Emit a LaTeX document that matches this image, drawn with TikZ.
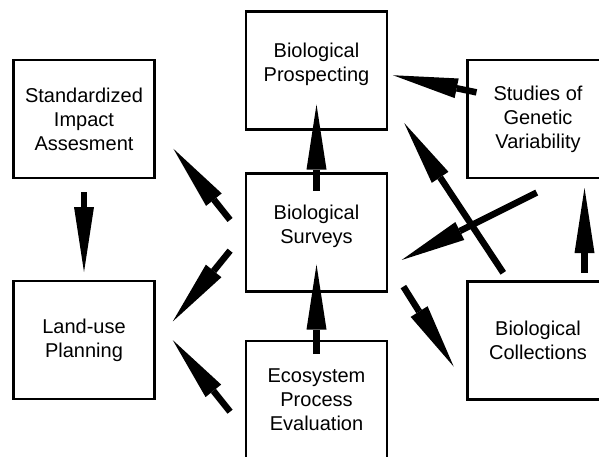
\documentclass[tikz,border=0pt]{standalone}
\usepackage{fontspec}
\setmainfont{Liberation Sans}
\usetikzlibrary{arrows.meta}
\begin{document}
\begin{tikzpicture}[x=1pt, y=-1pt,
    box/.style={draw, line width=2.5pt, outer sep=0pt, inner sep=0pt,
        minimum width=141pt, minimum height=118pt, align=center,
        font=\fontsize{20}{24}\selectfont},
    bigarrow/.style={line width=6.5pt,
        -{Triangle[length=65pt, width=20pt, line width=0pt]}}]
    \clip (0,0) rectangle (599,456);
    % left column
    \node[box] (std) at (84,119) {Standardized\\Impact\\Assesment};
    \node[box] (land) at (84,340) {Land-use\\Planning};
    % middle column
    \node[box, text depth=16pt] (prosp) at (316.5,70.5) {Biological\\Prospecting};
    \node[box, text depth=16pt] (surv) at (316.5,232.5) {Biological\\Surveys};
    \node[box] (eco) at (316.5,400) {Ecosystem\\Process\\Evaluation};
    % right column
    \node[box] (stud) at (538,119) {Studies of\\Genetic\\Variability};
    \node[box] (coll) at (538,340.5) {Biological\\Collections};
    % arrows on the left
    \draw[bigarrow, shorten <=14pt, shorten >=9pt] (std.south) -- (land.north);
    \draw[bigarrow, shorten <=25.6pt, shorten >=30.4pt] ([yshift=-7.5pt]surv.west) -- ([yshift=-6pt]std.east);
    \draw[bigarrow, shorten <=25.3pt, shorten >=29pt] ([yshift=1.5pt]surv.west) -- ([yshift=-4pt]land.east);
    \draw[bigarrow, shorten <=25.5pt, shorten >=29.2pt] ([yshift=-31.6pt]eco.west) -- ([yshift=22.7pt]land.east);
    % arrows in the middle, over the box edges
    \draw[bigarrow, shorten <=-17pt, shorten >=-25pt] (surv.north) -- (prosp.south);
    \draw[bigarrow, shorten <=-13pt, shorten >=-27pt] (eco.north) -- (surv.south);
    % arrows on the right
    \draw[bigarrow, shorten <=-9.2pt, shorten >=6.1pt] ([yshift=28.5pt]stud.west) -- ([yshift=-3.5pt]prosp.east);
    \draw[bigarrow, shorten <=10.4pt, shorten >=31.3pt] ([xshift=-29pt]coll.north) -- ([yshift=-26.5pt]prosp.east);
    \draw[bigarrow, shorten <=32.7pt, shorten >=16.4pt] ([xshift=28pt]stud.south) -- ([yshift=-34.8pt]surv.east);
    \draw[bigarrow, shorten <=30.8pt, shorten >=25.9pt] ([yshift=-28pt]surv.east) -- ([yshift=-48pt]coll.west);
    \draw[bigarrow, shorten <=9pt, shorten >=10pt] ([xshift=46.5pt]coll.north) -- ([xshift=46.5pt]stud.south);
\end{tikzpicture}
\end{document}
